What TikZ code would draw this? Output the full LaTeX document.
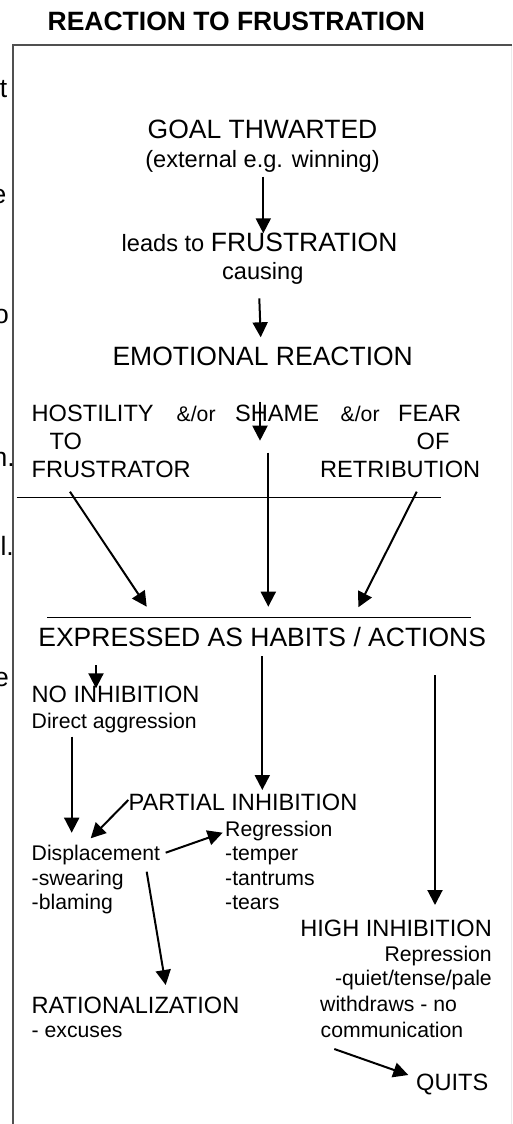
\documentclass[tikz,border=0pt]{standalone}
\usepackage{fontspec}
\setmainfont{Liberation Sans}
\usetikzlibrary{arrows.meta}

\tikzset{
  big/.style={font=\fontsize{26.5}{30}\selectfont, inner sep=0pt},
  mid/.style={font=\fontsize{23.6}{27}\selectfont, inner sep=0pt},
  sml/.style={font=\fontsize{21.2}{24}\selectfont, inner sep=0pt},
  flow/.style={line width=2pt, -{Triangle[length=15pt,width=15pt]}},
  rule/.style={line width=1.4pt},
  frame/.style={line width=1.6pt, draw={rgb,255:red,80;green,80;blue,80}},
}

\begin{document}
\begin{tikzpicture}[x=1pt, y=-1pt]
\useasboundingbox (0,0) rectangle (512,1124);

% frame of the panel
\draw[line width=1pt, draw={rgb,255:red,235;green,235;blue,235}] (511,46) -- (511,1124);
\draw[frame] (512,45) -- (13,45) -- (13,1124);

% cut-off letters of the neighbouring column
\node[big, anchor=base east] (f1) at (7.5,97) {t};
\node[big, anchor=base east] (f2) at (6.5,203) {e};
\node[big, anchor=base east] (f3) at (9,323) {o};
\node[big, anchor=base east] (f4) at (15,466) {n.};
\node[big, anchor=base east] (f5) at (14,555) {l.};
\node[big, anchor=base east] (f6) at (9,686) {e};

% heading
\node[big, font=\fontsize{26.5}{30}\selectfont\bfseries, anchor=base] (title) at (236.3,30.5) {REACTION TO FRUSTRATION};

% chain at the top
\node[big, anchor=base] (goal) at (262.5,138.3) {GOAL THWARTED};
\node[mid, anchor=base] (goalsub) at (262.5,167) {(external e.g. winning)};
\node[big, anchor=base west] (frus) at (121.5,251.7) {{\fontsize{23.6}{27}\selectfont leads to }FRUSTRATION};
\node[mid, anchor=base] (causing) at (262.8,279) {causing};
\node[big, anchor=base] (emo) at (262.7,365) {EMOTIONAL REACTION};

% three emotional reactions
\node[mid, anchor=base west] (host) at (31.5,421.7) {HOSTILITY};
\node[sml, anchor=base west] (or1) at (176.5,421.7) {\&/or};
\node[mid, anchor=base west] (shame) at (235,421.7) {SHAME};
\node[sml, anchor=base west] (or2) at (340.5,421.7) {\&/or};
\node[mid, anchor=base west] (fear) at (398,421.7) {FEAR};
\node[mid, anchor=base west] (hostb) at (49.5,449.3) {TO};
\node[mid, anchor=base west] (fearb) at (416.5,449.3) {OF};
\node[mid, anchor=base west] (hostc) at (31.5,477.3) {FRUSTRATOR};
\node[mid, anchor=base west] (fearc) at (320,477.3) {RETRIBUTION};

\node[big, anchor=base] (expr) at (262.2,646.7) {EXPRESSED AS HABITS / ACTIONS};

% no inhibition
\node[mid, anchor=base west] (noinh) at (31.5,702.7) {NO INHIBITION};
\node[sml, anchor=base west] (direct) at (31.5,728) {Direct aggression};

% partial inhibition
\node[mid, anchor=base west] (partial) at (128.5,810.7) {PARTIAL INHIBITION};
\node[sml, anchor=base west] (displ) at (31.5,860) {Displacement};
\node[sml, anchor=base west] (displa) at (31.5,885) {-swearing};
\node[sml, anchor=base west] (displb) at (31.5,909) {-blaming};
\node[sml, anchor=base west] (regr) at (225,836) {Regression};
\node[sml, anchor=base west] (regra) at (225,860) {-temper};
\node[sml, anchor=base west] (regrb) at (225,885) {-tantrums};
\node[sml, anchor=base west] (regrc) at (225,909) {-tears};
\node[mid, anchor=base west] (ratio) at (31.5,1013.3) {RATIONALIZATION};
\node[sml, anchor=base west] (ratioa) at (31.5,1037.3) {- excuses};

% high inhibition
\node[mid, anchor=base east] (high) at (492,936.7) {HIGH INHIBITION};
\node[sml, anchor=base east] (repr) at (492,961) {Repression};
\node[sml, anchor=base east] (repra) at (492,985) {-quiet/tense/pale};
\node[sml, anchor=base west] (withd) at (320,1011.7) {withdraws - no};
\node[sml, anchor=base west] (comm) at (320.5,1037.3) {communication};
\node[mid, anchor=base west] (quits) at (416,1090) {QUITS};

% end points of the connectors
\coordinate (a1s) at (263.3,176.7);  \coordinate (a1e) at (263.3,233.3);
\coordinate (a2s) at (259.3,298.3);  \coordinate (a2e) at (260.7,337.3);
\coordinate (a3s) at (260,401.7);    \coordinate (a3e) at (260,440.7);
\coordinate (a4s) at (268.3,452.7);  \coordinate (a4e) at (268.3,606.7);
\coordinate (a5s) at (70,491.7);     \coordinate (a5e) at (146.7,606.7);
\coordinate (a6s) at (416.7,491.7);  \coordinate (a6e) at (358.3,607.3);
\coordinate (a7s) at (96,665);       \coordinate (a7e) at (96,688.3);
\coordinate (a8s) at (262.3,656);    \coordinate (a8e) at (262.3,790);
\coordinate (a9s) at (435,675);      \coordinate (a9e) at (435,905);
\coordinate (a10s) at (71.7,736.7);  \coordinate (a10e) at (71.7,832.7);
\coordinate (a11s) at (128.3,800);   \coordinate (a11e) at (90.7,838.3);
\coordinate (a12s) at (165.7,852.7); \coordinate (a12e) at (222.7,832.7);
\coordinate (a13s) at (146.7,871.7); \coordinate (a13e) at (165.7,985);
\coordinate (a14s) at (334.3,1049);  \coordinate (a14e) at (408.3,1075);
\coordinate (r1s) at (16.7,497.3);   \coordinate (r1e) at (440.7,497.3);
\coordinate (r2s) at (47.3,617.3);   \coordinate (r2e) at (470.7,617.3);

% dividing rules
\draw[rule] (r1s) -- (r1e);
\draw[rule] (r2s) -- (r2e);

% arrows
\draw[flow] (a1s) -- (a1e);
\draw[flow] (a2s) -- (a2e);
\draw[flow] (a3s) -- (a3e);
\draw[flow] (a4s) -- (a4e);
\draw[flow] (a5s) -- (a5e);
\draw[flow] (a6s) -- (a6e);
\draw[flow] (a7s) -- (a7e);
\draw[flow] (a8s) -- (a8e);
\draw[flow] (a9s) -- (a9e);
\draw[flow] (a10s) -- (a10e);
\draw[flow] (a11s) -- (a11e);
\draw[flow] (a12s) -- (a12e);
\draw[flow] (a13s) -- (a13e);
\draw[flow] (a14s) -- (a14e);
\end{tikzpicture}
\end{document}
